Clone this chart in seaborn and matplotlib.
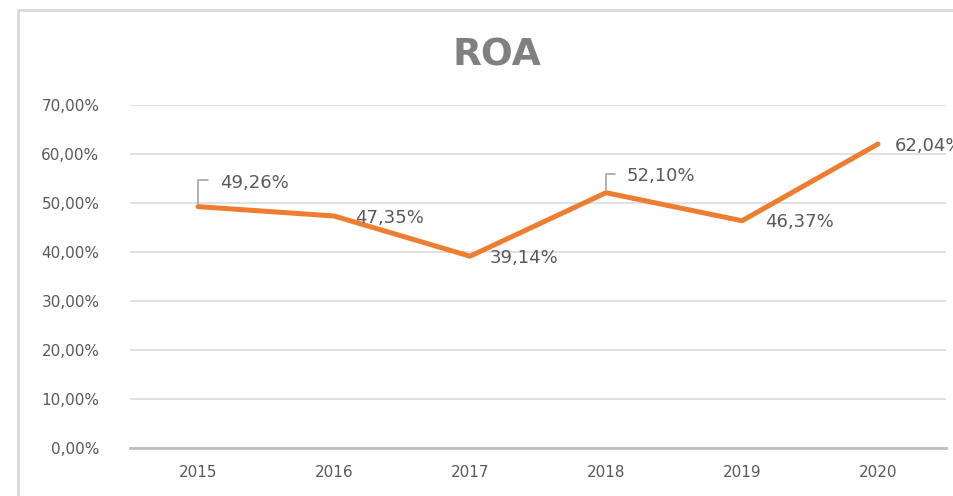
import matplotlib
matplotlib.use("Agg")
import matplotlib.pyplot as plt
import seaborn as sns
import pandas as pd
from matplotlib.patches import Rectangle
from matplotlib.ticker import FuncFormatter

years = ["2015", "2016", "2017", "2018", "2019", "2020"]
roa = [49.26, 47.35, 39.14, 52.10, 46.37, 62.04]
labels = ["49,26%", "47,35%", "39,14%", "52,10%", "46,37%", "62,04%"]
title = "ROA"

df = pd.DataFrame({"year": years, "roa": roa})

sns.set_theme(style="white")
plt.rcParams["font.family"] = ["DejaVu Sans"]

W, H = 954, 496
fig = plt.figure(figsize=(W / 100, H / 100), dpi=100)
ax = fig.add_axes([130 / W, 1 - 448 / H, (946 - 130) / W, (448 - 105) / H])

sns.lineplot(data=df, x="year", y="roa", ax=ax, color="#ED7D31",
             linewidth=3.6, sort=False, solid_capstyle="round", zorder=3)

ax.set_xlim(-0.5, 5.5)
ax.set_ylim(0, 70)
ax.set_yticks(range(0, 71, 10))
ax.yaxis.set_major_formatter(FuncFormatter(lambda v, p: f"{v:.2f}".replace(".", ",") + "%"))
ax.grid(axis="y", color="#d9d9d9", linewidth=1.1, zorder=0)
ax.grid(axis="x", visible=False)
for s in ["top", "right", "left"]:
    ax.spines[s].set_visible(False)
ax.spines["bottom"].set_color("#bfbfbf")
ax.spines["bottom"].set_linewidth(2.0)
ax.tick_params(axis="both", length=0, labelsize=11, colors="#595959")
ax.tick_params(axis="y", pad=22)
ax.tick_params(axis="x", pad=12)
ax.set_xlabel("")
ax.set_ylabel("")

# data labels (offsets in pixels)
offsets = [(22, 24), (21, -2), (20, -2), (21, 17), (23, -1), (17, -2)]
leaders = [True, False, False, True, False, False]
for i, (lab, v) in enumerate(zip(labels, roa)):
    dx, dy = offsets[i]
    kw = {}
    if leaders[i]:
        kw["arrowprops"] = dict(arrowstyle="-", color="#a6a6a6", lw=1.2,
                                connectionstyle="angle,angleA=0,angleB=90,rad=0",
                                shrinkA=6, shrinkB=2, relpos=(0, 0.62))
    ax.annotate(lab, xy=(i, v), xytext=(dx, dy), textcoords="offset pixels",
                ha="left", va="center", fontsize=13, color="#595959",
                annotation_clip=False, zorder=4, **kw)

fig.text(497 / W, 1 - 55 / H, title, ha="center", va="center",
         fontsize=27, fontweight="bold", color="#808080")

fig.patches.append(Rectangle((18 / W, -0.2), 1.5, 1.2 - 10 / H + 0.0,
                             transform=fig.transFigure, fill=False,
                             edgecolor="#d9d9d9", linewidth=2.0, zorder=0))

fig.savefig("out.png", dpi=100)
